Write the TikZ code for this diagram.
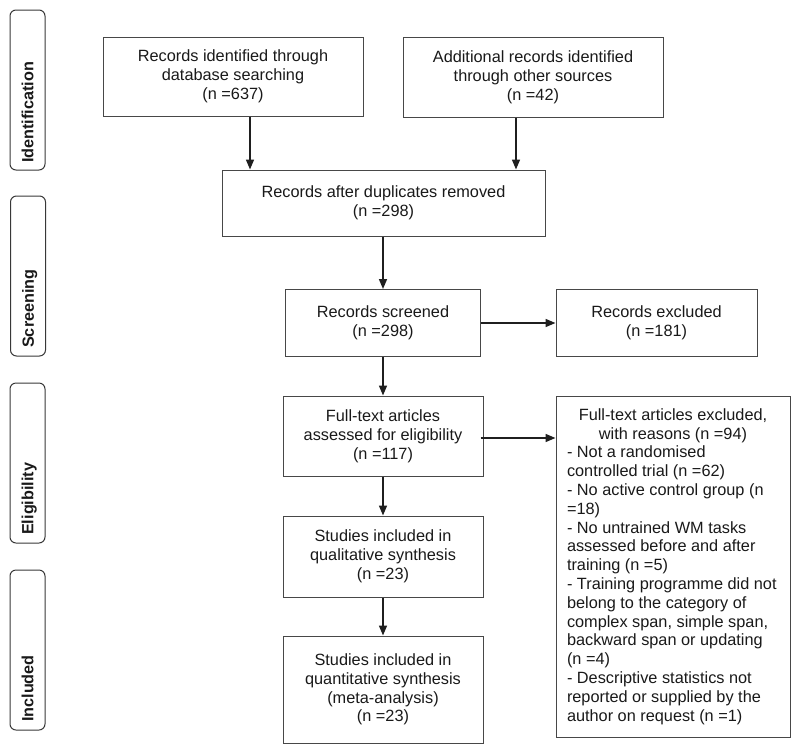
\documentclass[tikz,border=0pt]{standalone}
\usepackage{fontspec}
\setmainfont{Liberation Sans}
\usetikzlibrary{arrows.meta}
\begin{document}
\begin{tikzpicture}[x=1pt,y=-1pt,
  box/.style={draw=black!72, line width=1pt, rectangle, align=center, inner sep=0pt,
    text=black!90, font=\fontsize{16.3}{18.8}\selectfont},
  side/.style={draw=black!78, line width=1pt, rounded corners=6pt,
    minimum width=35pt, minimum height=160pt, inner sep=0pt},
  lab/.style={rotate=90, anchor=west, inner sep=0pt, text height=11.6pt, text depth=0pt,
    text=black!90, font=\fontsize{16.2}{19}\selectfont\bfseries},
  arr/.style={-{Triangle[length=10pt,width=8pt]}, line width=1.6pt, draw=black!88}]
\useasboundingbox (0,0) rectangle (800,753);

% phase labels
\node[side] (s1) at (27.5,90) {};
\node[lab] (l1) at (27.5,163) {Identification};
\node[side] (s2) at (28,276) {};
\node[lab] (l2) at (28,348) {Screening};
\node[side] (s3) at (27.5,463) {};
\node[lab] (l3) at (27.5,535) {Eligibility};
\node[side] (s4) at (27.5,650) {};
\node[lab] (l4) at (27.5,722) {Included};

% boxes
\node[box, minimum width=260pt, minimum height=79pt] (A) at (233,76.5)
  {Records identified through\\database searching\\(n =637)};
\node[box, minimum width=260pt, minimum height=80pt] (B) at (533,77)
  {Additional records identified\\through other sources\\(n =42)};
\node[box, minimum width=323pt, minimum height=66pt] (C) at (383.5,203)
  {Records after duplicates removed\\(n =298)};
\node[box, minimum width=195pt, minimum height=67pt] (D) at (383,323)
  {Records screened\\(n =298)};
\node[box, minimum width=201pt, minimum height=67pt] (E) at (656.5,323)
  {Records excluded\\(n =181)};
\node[box, minimum width=200pt, minimum height=80pt] (F) at (383,436)
  {Full-text articles\\assessed for eligibility\\(n =117)};
\node[box, align=left, minimum width=234pt, minimum height=341pt] (G) at (673,566.5)
  {\makebox[212pt][c]{Full-text articles excluded,}\\
   \makebox[212pt][c]{with reasons (n =94)}\\
   - Not a randomised\\
   controlled trial (n =62)\\
   - No active control group (n\\
   =18)\\
   - No untrained WM tasks\\
   assessed before and after\\
   training (n =5)\\
   - Training programme did not\\
   belong to the category of\\
   complex span, simple span,\\
   backward span or updating\\
   (n =4)\\
   - Descriptive statistics not\\
   reported or supplied by the\\
   author on request (n =1)};
\node[box, minimum width=200pt, minimum height=81pt] (H) at (383,556.5)
  {Studies included in\\qualitative synthesis\\(n =23)};
\node[box, minimum width=200pt, minimum height=107pt] (I) at (383,689.5)
  {Studies included in\\quantitative synthesis\\(meta-analysis)\\(n =23)};

% connectors
\draw[arr] ([xshift=17pt]A.south) -- ([xshift=17pt]A.south |- C.north);
\draw[arr] ([xshift=-17pt]B.south) -- ([xshift=-17pt]B.south |- C.north);
\draw[arr] (D.north |- C.south) -- (D.north);
\draw[arr] (D.east) -- (E.west);
\draw[arr] (D.south) -- (D.south |- F.north);
\draw[arr] ([xshift=-3pt,yshift=-2pt]F.east) -- ([yshift=-2pt]F.east -| G.west);
\draw[arr] (F.south) -- (F.south |- H.north);
\draw[arr] (H.south) -- (H.south |- I.north);
\end{tikzpicture}
\end{document}
